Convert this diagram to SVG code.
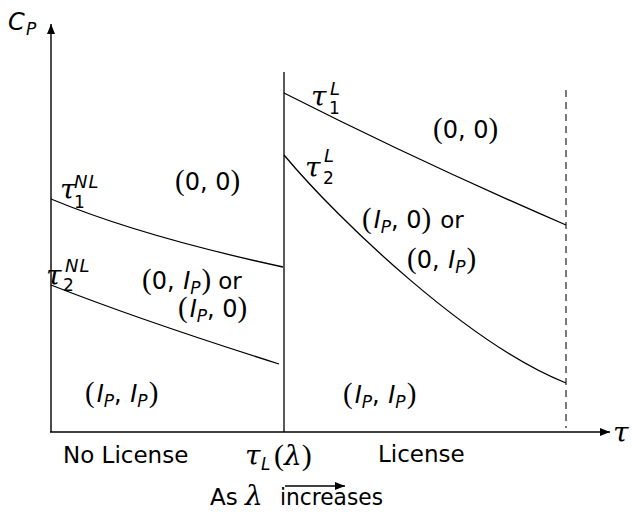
<svg xmlns="http://www.w3.org/2000/svg" width="632" height="512" viewBox="0 0 632 512">
<style>
.ln{fill:none;stroke:#000;stroke-width:1.3}
.ax{fill:none;stroke:#000;stroke-width:1.4}
.t{font-family:"DejaVu Sans",sans-serif;font-size:23px;fill:#000}
.m{font-family:"DejaVu Sans",sans-serif;font-size:24px;fill:#000}
.it{font-style:italic}
.pp{font-family:"Liberation Serif","DejaVu Serif",serif;font-size:29px;font-style:normal}
.sb{font-family:"DejaVu Sans",sans-serif;font-size:17px;font-style:italic;fill:#000}
.sp{font-family:"DejaVu Sans",sans-serif;font-size:18px;font-style:italic;letter-spacing:1px;fill:#000}
.sd{font-family:"DejaVu Sans",sans-serif;font-size:17px;fill:#000}
.g{font-family:"DejaVu Serif","Liberation Serif",serif;font-size:28px;font-style:italic;fill:#000}
.p{font-family:"Liberation Serif","DejaVu Serif",serif;font-size:30px;fill:#000}
</style>
<defs>
<marker id="ah" markerUnits="userSpaceOnUse" markerWidth="12" markerHeight="10" refX="10" refY="4" orient="auto">
<path d="M0,0 L10,4 L0,8 Z" fill="#000"/>
</marker>
</defs>
<g id="axes">
<line class="ax" x1="51" y1="432" x2="51" y2="24" marker-end="url(#ah)"/>
<line class="ax" x1="50" y1="432" x2="610" y2="432" marker-end="url(#ah)"/>
<line class="ln" x1="284" y1="72" x2="284" y2="432"/>
<line x1="566" y1="90" x2="566" y2="428" stroke="#333" stroke-width="1.3" stroke-dasharray="7 5"/>
</g>
<g id="curves">
<path class="ln" d="M51,199 Q140,236 283,267"/>
<path class="ln" d="M51,285 Q140,320 279,364"/>
<path class="ln" d="M284,93 Q420,162 566,225"/>
<path class="ln" d="M284,155 C340,222 470,345 566,383"/>
<line class="ln" x1="285" y1="486" x2="345" y2="486" marker-end="url(#ah)"/>
</g>
<g id="labels">
<text x="8" y="30" class="m it" font-size="25">C</text><text x="26" y="35" class="sb">P</text>
<text x="613" y="442" class="g">τ</text>
<text x="60" y="199" class="g">τ</text><text x="74" y="188" class="sp">NL</text><text x="74" y="208" class="sd">1</text>
<text x="46" y="285" class="g">τ</text><text x="65" y="272" class="sp">NL</text><text x="63" y="291" class="sd">2</text>
<text x="311" y="106" class="g">τ</text><text x="330" y="95" class="sp">L</text><text x="329" y="114" class="sd">1</text>
<text x="305" y="177" class="g">τ</text><text x="324" y="162" class="sp">L</text><text x="323" y="184" class="sd">2</text>
<text x="175" y="190" class="m"><tspan class="pp">(</tspan>0, 0<tspan class="pp">)</tspan></text>
<text x="433" y="138" class="m"><tspan class="pp">(</tspan>0, 0<tspan class="pp">)</tspan></text>
<text x="142" y="289" class="m"><tspan class="pp">(</tspan>0, <tspan class="it" dx="1">I</tspan><tspan class="sb" dy="5">P</tspan><tspan class="pp" dy="-5" dx="1">)</tspan><tspan class="t" dx="7" font-size="21">or</tspan></text>
<text x="178" y="317" class="m"><tspan class="pp">(</tspan><tspan class="it" dx="2">I</tspan><tspan class="sb" dy="5">P</tspan><tspan dy="-5">, 0</tspan><tspan class="pp">)</tspan></text>
<text x="362" y="228" class="m"><tspan class="pp">(</tspan><tspan class="it" dx="2">I</tspan><tspan class="sb" dy="5">P</tspan><tspan dy="-5">, 0</tspan><tspan class="pp">)</tspan><tspan class="t" dx="9" font-size="21">or</tspan></text>
<text x="407" y="268" class="m"><tspan class="pp">(</tspan>0, <tspan class="it" dx="1">I</tspan><tspan class="sb" dy="5">P</tspan><tspan class="pp" dy="-5" dx="1">)</tspan></text>
<text x="85" y="402" class="m"><tspan class="pp">(</tspan><tspan class="it" dx="2">I</tspan><tspan class="sb" dy="5">P</tspan><tspan dy="-5">, </tspan><tspan class="it" dx="1">I</tspan><tspan class="sb" dy="5">P</tspan><tspan class="pp" dy="-5" dx="1">)</tspan></text>
<text x="343" y="403" class="m"><tspan class="pp">(</tspan><tspan class="it" dx="2">I</tspan><tspan class="sb" dy="5">P</tspan><tspan dy="-5">, </tspan><tspan class="it" dx="1">I</tspan><tspan class="sb" dy="5">P</tspan><tspan class="pp" dy="-5" dx="1">)</tspan></text>
<text x="63" y="463" class="t">No License</text>
<text x="378" y="462" class="t">License</text>
<text x="245" y="465" class="g">τ</text><text x="261" y="470" class="sb">L</text><text x="274" y="465" class="p">(<tspan class="g">λ</tspan>)</text>
<text x="210" y="505" class="t">As <tspan class="g" font-size="26">λ</tspan></text>
<text x="280" y="505" class="t" textLength="103" lengthAdjust="spacingAndGlyphs">increases</text>
</g>
</svg>
